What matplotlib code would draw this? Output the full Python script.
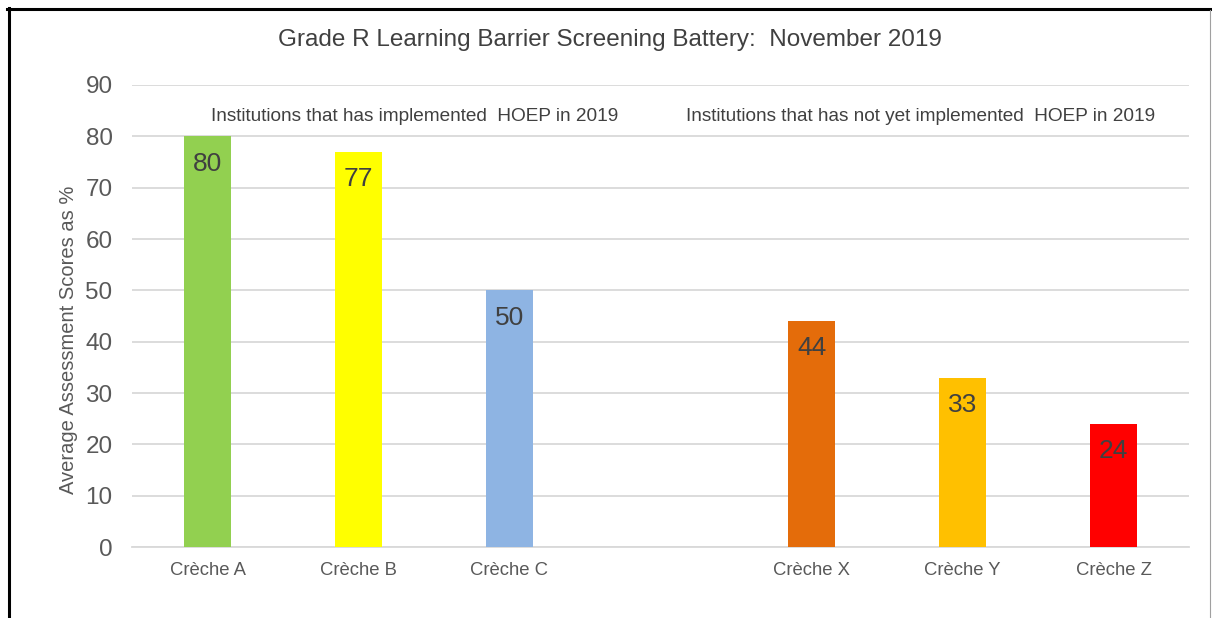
import matplotlib.pyplot as plt
from matplotlib.lines import Line2D

# Data
categories = ["Crèche A", "Crèche B", "Crèche C", "", "Crèche X", "Crèche Y", "Crèche Z"]
scores = [80, 77, 50, None, 44, 33, 24]
colors = ["#92D050", "#FFFF00", "#8EB4E3", None, "#E46C0A", "#FFC000", "#FF0000"]
group_labels = ["Institutions that has implemented  HOEP in 2019",
                "Institutions that has not yet implemented  HOEP in 2019"]
yticks = list(range(0, 100, 10))

plt.rcParams['font.family'] = ['Liberation Sans', 'DejaVu Sans']

fig = plt.figure(figsize=(12.12, 6.18), dpi=100)
ax = fig.add_axes([132 / 1212, 1 - 547 / 618, 1057 / 1212, 462 / 618])

xs = list(range(len(categories)))
for x, v, c in zip(xs, scores, colors):
    if v is None:
        continue
    ax.bar(x, v, width=0.31, color=c, zorder=3)
    ax.annotate(str(v), (x, v), xytext=(0, -11), textcoords='offset points',
                ha='center', va='top', fontsize=19, color='#404040', zorder=4)

ax.set_xlim(-0.5, len(categories) - 0.5)
ax.set_ylim(0, 90)
ax.set_yticks(yticks)
ax.set_xticks(xs)
ax.set_xticklabels(categories)
ax.tick_params(axis='y', length=0, labelsize=17.5, labelcolor='#595959', pad=14)
ax.tick_params(axis='x', length=0, labelsize=13.3, labelcolor='#595959', pad=11)
ax.grid(axis='y', color='#D9D9D9', linewidth=1.3, zorder=0)
for s in ['top', 'right', 'left']:
    ax.spines[s].set_visible(False)
ax.spines['bottom'].set_color('#D9D9D9')
ax.spines['bottom'].set_linewidth(1.3)

ax.set_ylabel("Average Assessment Scores as %", fontsize=14.5, color='#595959')
ax.yaxis.set_label_coords(-54 / 1057, 0.448)

ax.text(1.37, 83.8, group_labels[0], ha='center', va='center', fontsize=13.7, color='#404040')
ax.text(4.72, 83.8, group_labels[1], ha='center', va='center', fontsize=13.7, color='#404040')

fig.text(610 / 1212, 1 - 40 / 618, "Grade R Learning Barrier Screening Battery:  November 2019",
         ha='center', va='center', fontsize=17.5, color='#404040')

# outer frame
fig.add_artist(Line2D([8.5 / 1212, 8.5 / 1212], [0, 1 - 8 / 618], color='black', linewidth=2.2,
                      transform=fig.transFigure))
fig.add_artist(Line2D([7 / 1212, 1], [1 - 8.5 / 618, 1 - 8.5 / 618], color='black', linewidth=2.2,
                      transform=fig.transFigure))
fig.add_artist(Line2D([1210 / 1212, 1210 / 1212], [0, 1 - 10 / 618], color='#A0A0A0', linewidth=0.8,
                      transform=fig.transFigure))

fig.savefig("out.png", dpi=100)
